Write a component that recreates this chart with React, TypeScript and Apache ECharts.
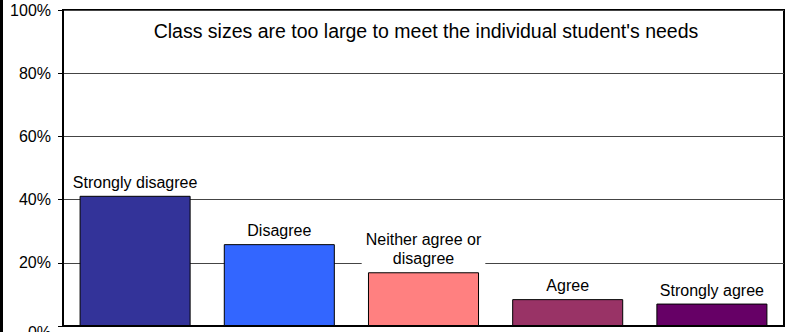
import React, { useEffect, useRef } from "react";
import * as echarts from "echarts";

const categories = ["Strongly disagree", "Disagree", "Neither agree or\ndisagree", "Agree", "Strongly agree"];
const values = [41.2, 25.9, 17.0, 8.5, 7.1];
const colors = ["#333399", "#3366FF", "#FF8080", "#993366", "#660066"];
const yTicks = [0, 20, 40, 60, 80, 100];
const title = "Class sizes are too large to meet the individual student's needs";

const FONT = "'Liberation Sans', Arial, sans-serif";

export default function App() {
  const ref = useRef<HTMLDivElement>(null);
  useEffect(() => {
    if (!ref.current) return;
    const chart = echarts.init(ref.current, null, { renderer: "svg" });
    chart.setOption({
      animation: false,
      backgroundColor: "#ffffff",
      grid: {
        left: 63,
        top: 10,
        right: 4,
        bottom: 6,
        show: true,
        borderColor: "#000000",
        borderWidth: 2,
        backgroundColor: "transparent",
        containLabel: false,
        outerBoundsMode: "none",
      },
      title: {
        text: title,
        left: 421,
        textAlign: "center",
        top: 16,
        textStyle: { fontFamily: FONT, fontSize: 19.5, fontWeight: "normal", color: "#000" },
      },
      graphic: [
        { type: "rect", left: 0, top: 0, shape: { x: 0, y: 0, width: 3, height: 332 }, style: { fill: "#000" } },
      ],
      xAxis: {
        type: "category",
        data: categories,
        axisLabel: { show: false },
        axisTick: { show: false },
        axisLine: { lineStyle: { color: "#000", width: 2 } },
        splitLine: { show: false },
      },
      yAxis: {
        type: "value",
        min: yTicks[0],
        max: yTicks[yTicks.length - 1],
        interval: 20,
        axisLine: { show: true, lineStyle: { color: "#000", width: 2 } },
        axisTick: { show: true, length: 5, lineStyle: { color: "#000", width: 1 } },
        axisLabel: {
          formatter: (v: number) => (v === 0 ? "{z|0%}" : v + "%"),
          margin: 12,
          fontFamily: FONT,
          fontSize: 16,
          color: "#000",
          rich: {
            z: { fontFamily: FONT, fontSize: 16, color: "#000", padding: [12, 0, 0, 0] },
          },
        },
        splitLine: { show: true, lineStyle: { color: "#444", width: 1 } },
      },
      series: [
        {
          type: "bar",
          barWidth: "77%",
          data: values.map((v, i) => ({
            value: v,
            itemStyle: { color: colors[i], borderColor: "#000", borderWidth: 1 },
          })),
          label: {
            show: true,
            position: "top",
            distance: 3,
            formatter: (p: any) => categories[p.dataIndex],
            fontFamily: FONT,
            fontSize: 16,
            lineHeight: 19,
            color: "#000",
            backgroundColor: "#fff",
            padding: [1, 4, 1, 4],
          },
        },
      ],
    });
    return () => chart.dispose();
  }, []);
  return (
    <div
      ref={ref}
      style={{ position: "absolute", left: 0, top: 0, width: 788, height: 332 }}
    />
  );
}
